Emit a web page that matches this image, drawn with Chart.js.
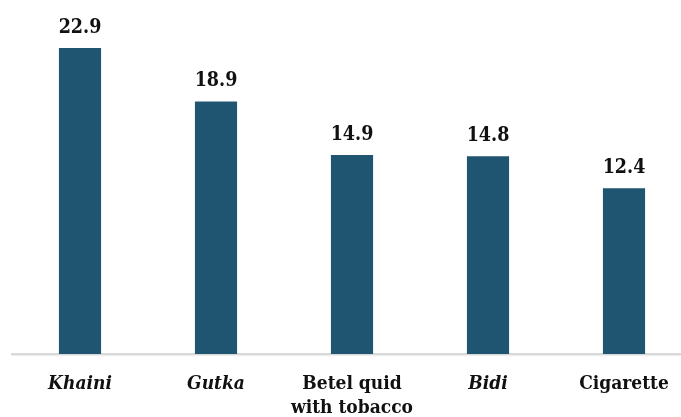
<!DOCTYPE html>
<html>
<head>
<meta charset="utf-8">
<script src="https://cdn.jsdelivr.net/npm/chart.js@4"></script>
<style>
  html, body { margin: 0; padding: 0; background: #fff; overflow: hidden; }
  #wrap { position: absolute; left: 0; top: 0; width: 700px; height: 417px; }
</style>
</head>
<body>
<div id="wrap"><canvas id="c"></canvas></div>
<script>
// tobacco product use, %
const categories = [["Khaini"], ["Gutka"], ["Betel quid", "with tobacco"], ["Bidi"], ["Cigarette"]];
const italicCats = [true, true, false, true, false];
const values = [22.9, 18.9, 14.9, 14.8, 12.4];

const FONT = "'DejaVu Serif Condensed', 'DejaVu Serif', serif";
const BAR = "#1F5570";

// value labels above bars
const valueLabels = {
  id: "valueLabels",
  afterDatasetsDraw(chart) {
    const { ctx } = chart;
    const meta = chart.getDatasetMeta(0);
    ctx.save();
    ctx.font = `bold 19.5px ${FONT}`;
    ctx.fillStyle = "#111";
    ctx.textAlign = "center";
    ctx.textBaseline = "alphabetic";
    meta.data.forEach((bar, i) => {
      ctx.fillText(values[i].toFixed(1), bar.x, bar.y - 15);
    });
    ctx.restore();
  }
};

new Chart(document.getElementById("c"), {
  type: "bar",
  data: {
    labels: categories,
    datasets: [{ data: values, backgroundColor: BAR, borderWidth: 0,
      categoryPercentage: 1, barPercentage: 0.31 }]
  },
  options: {
    responsive: true, maintainAspectRatio: false, animation: false,
    layout: { padding: { left: 12, right: 8, top: 20, bottom: 0 } },
    plugins: { legend: { display: false }, tooltip: { enabled: false } },
    scales: {
      x: {
        grid: { display: false },
        border: { color: "#d9d9d9", width: 2.5 },
        afterFit: (s) => { s.height = 63; },
        ticks: {
          color: "#111", padding: 10, maxRotation: 0, autoSkip: false,
          font: (c) => ({ family: FONT, size: 19, weight: "bold",
            style: italicCats[c.index] ? "italic" : "normal", lineHeight: 1.27 })
        }
      },
      y: { display: false, min: 0, max: 25 }
    }
  },
  plugins: [valueLabels]
});
</script>
</body>
</html>
